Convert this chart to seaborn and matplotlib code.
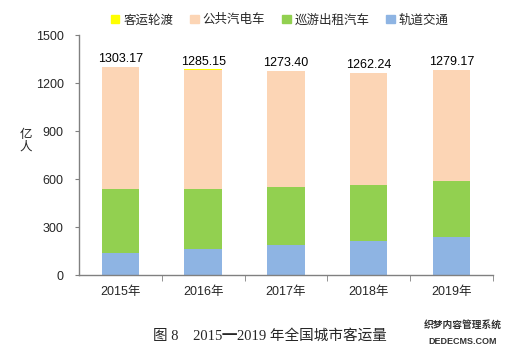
import matplotlib.pyplot as plt
import matplotlib.patches as mpatches
import seaborn as sns
import pandas as pd
import numpy as np

years = ['2015年', '2016年', '2017年', '2018年', '2019年']
rail = [140.01, 161.51, 184.80, 212.77, 238.78]      # 轨道交通
taxi = [396.74, 377.35, 365.40, 351.67, 347.89]      # 巡游出租汽车
bus = [765.40, 745.35, 722.37, 697.00, 691.76]       # 公共汽电车
ferry = [1.02, 0.94, 0.83, 0.80, 0.74]               # 客运轮渡
totals = [1303.17, 1285.15, 1273.40, 1262.24, 1279.17]

series_names = ['客运轮渡', '公共汽电车', '巡游出租汽车', '轨道交通']
colors = ['#FFFF00', '#FCD5B5', '#92D050', '#8EB4E3']

sns.set_style('white')
plt.rcParams['font.family'] = ['Liberation Sans', 'Noto Sans CJK SC']

df = pd.DataFrame({'year': years, 'rail': rail, 'taxi': taxi, 'bus': bus, 'ferry': ferry})
df['c_rail'] = df['rail']
df['c_taxi'] = df['c_rail'] + df['taxi']
df['c_bus'] = df['c_taxi'] + df['bus']
df['c_ferry'] = df['c_bus'] + df['ferry']

fig = plt.figure(figsize=(5.19, 3.54), dpi=100)
ax = fig.add_axes([0.152, 0.223, 0.798, 0.678])

# stacked bars drawn as overlapping cumulative bars, tallest first
for col, c in zip(['c_ferry', 'c_bus', 'c_taxi', 'c_rail'], colors):
    sns.barplot(data=df, x='year', y=col, color=c, width=0.45,
                saturation=1, ax=ax, linewidth=0)

for i, t in enumerate(totals):
    ax.text(i, t + 12, '%.2f' % t, ha='center', va='bottom', fontsize=9,
            color='black')

ax.set_ylim(0, 1500)
ax.set_xlim(-0.5, 4.5)
ax.set_yticks([0, 300, 600, 900, 1200, 1500])
ax.set_xlabel('')
ax.set_ylabel('')
ax.tick_params(axis='y', labelsize=9, length=3, direction='out', color='#808080',
               left=True, pad=8)
ax.tick_params(axis='x', labelsize=9, length=0, pad=8)
ax.set_xticks([0.5, 1.5, 2.5, 3.5, 4.5], minor=True)
ax.tick_params(axis='x', which='minor', length=4, color='#808080', bottom=True)

for s in ['top', 'right']:
    ax.spines[s].set_visible(False)
for s in ['left', 'bottom']:
    ax.spines[s].set_color('#808080')
    ax.spines[s].set_linewidth(1)

fig.text(0.05, 0.60, '亿\n人', ha='center', va='center', fontsize=9,
         linespacing=1.1)

handles = [mpatches.Patch(color=c, label=n) for n, c in zip(series_names, colors)]
fig.legend(handles=handles, loc='center', bbox_to_anchor=(0.539, 0.943), ncol=4,
           frameon=False, fontsize=9, handlelength=0.7, handleheight=0.7,
           handletextpad=0.3, columnspacing=1.35)

fig.text(0.52, 0.052, '图 8\u30002015━2019 年全国城市客运量', ha='center',
         va='center', fontsize=10.5, family=['Liberation Serif', 'Noto Sans CJK SC'])

fig.text(0.891, 0.082, '织梦内容管理系统', ha='center', va='center', fontsize=7,
         color='#333333', fontweight='bold')
fig.text(0.891, 0.035, 'DEDECMS.COM', ha='center', va='center', fontsize=6.5,
         color='#333333', fontweight='bold')

fig.savefig('out.png', dpi=100)
